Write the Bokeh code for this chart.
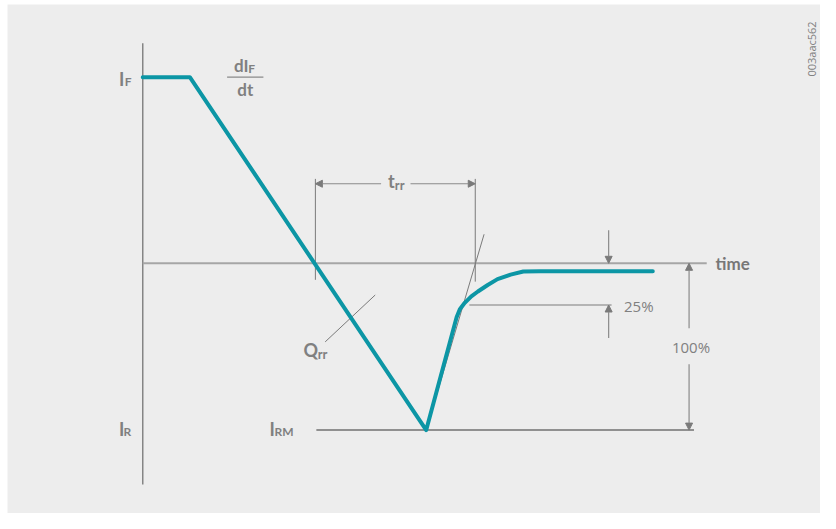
from bokeh.plotting import figure
from bokeh.models import Range1d, Arrow, NormalHead
from bokeh.core.properties import value
from bokeh.embed import file_html
from bokeh.resources import INLINE

# ---------------- data (time in arbitrary units, current in % of I_RM) ----------------
I_F = 111.6          # forward current level
I_RM = -100.0        # peak reverse recovery current
t_fall = 4.8         # start of current fall
t_rm = 28.9          # time of peak reverse current
# waveform: forward plateau, linear fall, recovery tail
wave_t = [0.0, t_fall, t_rm, 32.0, 32.33, 32.83, 33.5, 34.17, 35.17, 36.17, 37.5, 38.8, 40.5, 52.0]
wave_i = [I_F, I_F, I_RM, -32.4, -27.5, -23.7, -19.8, -16.9, -13.0, -9.5, -6.8, -4.9, -4.7, -4.7]
# trr markers
trr_start = 17.6
trr_end = 33.9
# tangent through the 25 % point
tangent_t = [t_rm, 34.8]
tangent_i = [I_RM, 17.4]
# Qrr leader line
qrr_t = [18.6, 23.7]
qrr_i = [-47.1, -19.0]
level_25 = -25.0

BG = "#ededed"
TEAL = "#0c96a5"
TXT = "#808080"
FONT = "Lato"
LIFT = 3.0  # vertical correction of text placement (current units)

W, H = 820, 513
p = figure(width=W, height=H, output_backend="svg", toolbar_location=None,
           x_range=Range1d(-13.79, 69.1), y_range=Range1d(-150.0, 155.16),
           min_border_left=7, min_border_top=4, min_border_right=0, min_border_bottom=0,
           x_axis_location=None, y_axis_location=None,
           background_fill_color=BG, border_fill_color="white", outline_line_color=None)
p.grid.visible = False

# axes
p.line([0, 0], [132.0, -132.6], line_color="#858585", line_width=1.5)
p.line([0, 57.5], [0, 0], line_color="#a6a6a6", line_width=2)
# I_RM level line
p.line([17.7, 56.2], [I_RM, I_RM], line_color="#707070", line_width=1.5)
# trr vertical markers
p.line([trr_start, trr_start], [50.6, -9.9], line_color="#7a7a7a", line_width=1)
p.line([trr_end, trr_end], [50.6, -11.0], line_color="#7a7a7a", line_width=1)
# tangent
p.line(tangent_t, tangent_i, line_color="#7a7a7a", line_width=1)
# Qrr leader
p.line(qrr_t, qrr_i, line_color="#7a7a7a", line_width=1)
# 25% level
p.line([33.3, 47.8], [level_25, level_25], line_color="#a0a0a0", line_width=1.5)
# dI/dt fraction bar
p.line([8.6, 12.3], [111.6, 111.6], line_color="#8a8a8a", line_width=1.2)

# waveform
p.line(wave_t, wave_i, line_color=TEAL, line_width=4, line_join="round", line_cap="round")

def arrow(x0, y0, x1, y1):
    p.add_layout(Arrow(end=NormalHead(size=7, fill_color="#7a7a7a", line_color="#7a7a7a", line_width=1),
                       x_start=x0, y_start=y0, x_end=x1, y_end=y1,
                       line_color="#8a8a8a", line_width=1.2))

# trr arrows
arrow(24.3, 47.7, trr_start, 47.7)
arrow(27.3, 47.7, trr_end, 47.7)
# 25 % arrows
arrow(47.5, 19.8, 47.5, 0.0)
arrow(47.5, -44.8, 47.5, level_25)
# 100 % arrows
arrow(55.7, -39.0, 55.7, 0.0)
arrow(55.7, -60.5, 55.7, I_RM)

def label(t, i, s, size, align="left", baseline="alphabetic", angle=0.0, color=TXT,
          font=FONT, style="bold", lift=LIFT):
    p.text(x=[t], y=[i + lift], text=[s], text_font=value(font), text_font_size=f"{size}px",
           text_font_style=style, text_color=color, text_align=align,
           text_baseline=baseline, angle=angle)

# I_F
label(-2.43, 107.7, "I", 18)
label(-1.83, 106.2, "F", 12)
# I_R
label(-2.43, -102.1, "I", 18)
label(-1.97, -104.1, "R", 12)
# I_RM
label(12.93, -102.1, "I", 18)
label(13.43, -104.1, "RM", 12)
# dI_F/dt
label(9.3, 115.3, "dI", 17)
label(10.75, 114.0, "F", 12)
label(10.45, 101.0, "dt", 17, align="center")
# t_rr
label(25.0, 46.1, "t", 18)
label(25.7, 43.8, "rr", 13)
# Q_rr
label(16.4, -54.7, "Q", 18)
label(17.83, -57.6, "rr", 13)
# time
label(58.4, -3.3, "time", 17, color="#777777")
# percentages
label(49.07, -28.5, "25%", 15, font="Open Sans", style="normal")
label(55.9, -53.1, "100%", 15, align="center", font="Open Sans", style="normal")
# figure id
label(68.2, 128.5, "003aac562", 11, align="center", baseline="middle", angle=1.5708,
      font="Open Sans", style="normal", lift=0.0)

open("out.html", "w").write(file_html(p, INLINE))
